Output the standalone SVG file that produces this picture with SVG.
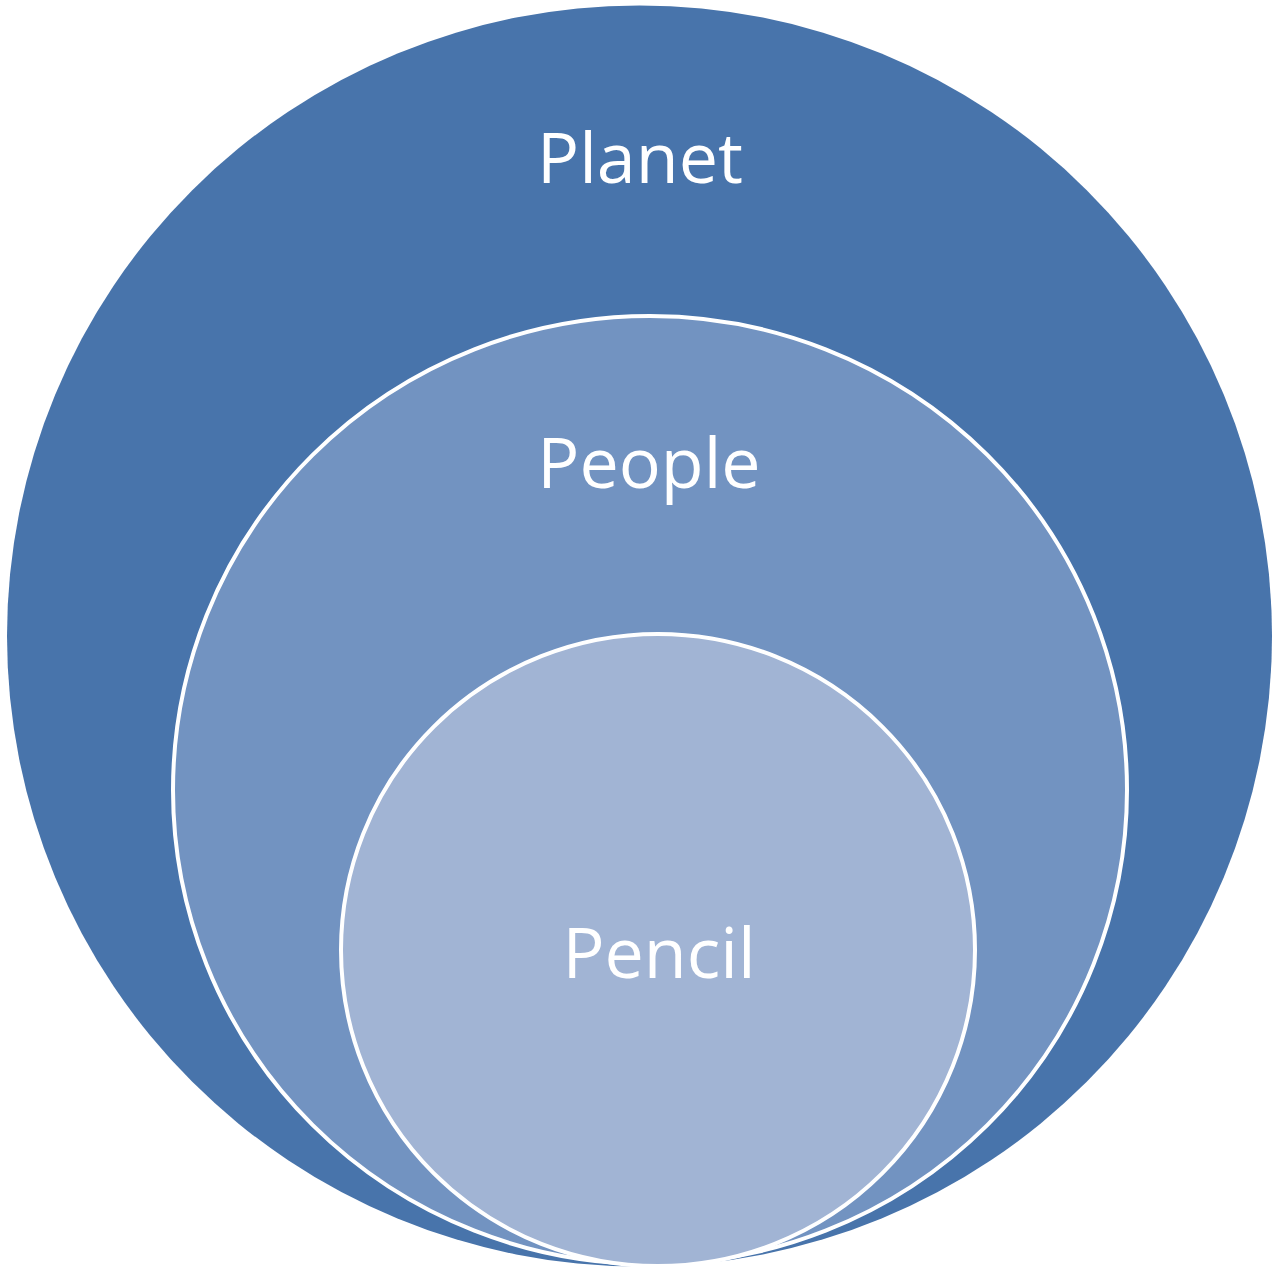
<svg xmlns="http://www.w3.org/2000/svg" width="1273" height="1268" viewBox="0 0 1273 1268">
<style>
.lbl{font-family:"Open Sans","Liberation Sans",sans-serif;fill:#fff;text-anchor:middle;font-size:70px}
.ring{stroke:#fff;stroke-width:4}
</style>
<rect width="1273" height="1268" fill="#fff"/>
<g id="planet">
<ellipse cx="639.5" cy="636" rx="632.5" ry="630.5" fill="#4874AB"/>
<text class="lbl" x="640" y="183">Planet</text>
</g>
<g id="people">
<ellipse class="ring" cx="650" cy="790" rx="477" ry="474" fill="#7293C1"/>
<text class="lbl" x="649" y="488">People</text>
</g>
<g id="pencil">
<ellipse class="ring" cx="658" cy="950" rx="317" ry="316" fill="#A1B4D4"/>
<text class="lbl" x="659" y="978">Pencil</text>
</g>
<g id="connectors"/>
</svg>
